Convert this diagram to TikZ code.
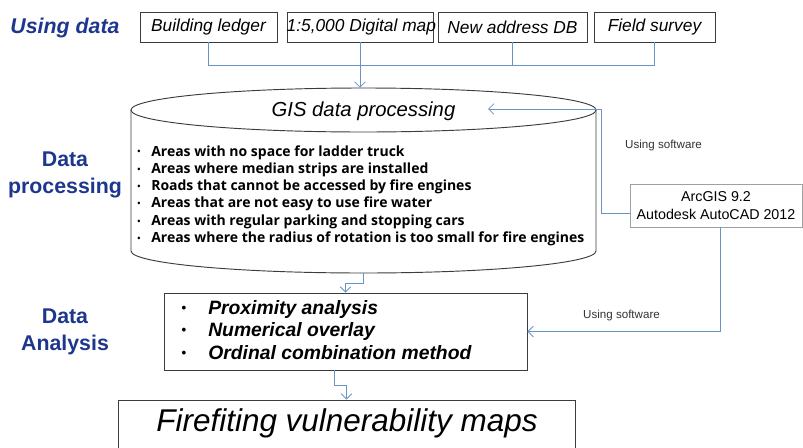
\documentclass[tikz,border=0pt]{standalone}
\usepackage{fontspec}
\setmainfont{Liberation Sans}
\newfontfamily\bulfont{Open Sans}
\usetikzlibrary{arrows.meta,calc}
\definecolor{lblue}{RGB}{30,55,140}
\definecolor{linkblue}{RGB}{105,148,200}
\definecolor{edgegray}{RGB}{60,60,60}
\definecolor{softgray}{RGB}{160,160,160}
\newcommand\cylbul{\makebox[10.5pt][l]{\raisebox{0.15ex}{\scalebox{0.6}{•}}}}
\begin{document}
\begin{tikzpicture}[x=0.75pt,y=-0.75pt,
  lbl/.style={font=\fontsize{16}{20}\selectfont\bfseries, text=lblue, align=center, inner sep=0pt},
  srcbox/.style={draw=edgegray, line width=0.7pt, minimum height=22.5pt, inner sep=0pt, font=\fontsize{13}{15}\selectfont\itshape},
  cylline/.style={draw=edgegray, line width=0.7pt},
  bultext/.style={anchor=base west, inner sep=0pt, font=\bulfont\fontsize{10.5}{12}\selectfont\bfseries},
  anatext/.style={anchor=base west, inner sep=0pt, font=\fontsize{14.5}{17}\selectfont\bfseries\itshape},
  anadot/.style={anchor=base, inner sep=0pt, font=\fontsize{10}{12}\selectfont\bfseries},
  plainbox/.style={draw=edgegray, line width=0.7pt, inner sep=0pt},
  swbox/.style={draw=softgray, line width=0.6pt, inner sep=0pt, align=center, font=\fontsize{10.7}{13}\selectfont},
  swlbl/.style={inner sep=0pt, font=\fontsize{8.7}{10}\selectfont, text=black!80},
  link/.style={draw=linkblue, line width=0.65pt},
  tip/.style={-{Straight Barb[length=4pt,width=8pt]}}
]
\useasboundingbox (0,0) rectangle (803,447);

% left labels
\node[lbl] (lusing) at (65,28) {\itshape Using data};
\node[lbl] (lproc) at (65,175) {Data\\processing};
\node[lbl] (lana) at (65,332) {Data\\Analysis};

% source boxes
\node[srcbox, minimum width=102.75pt] (b1) at (208.5,27) {Building ledger};
\node[srcbox, minimum width=109.5pt] (b2) at (360,27) {\makebox[0pt]{\hspace{2pt}1:5,000 Digital map}};
\node[srcbox, minimum width=111.75pt] (b3) at (512.5,27) {New address DB};
\node[srcbox, minimum width=90.75pt] (b4) at (654.5,27) {Field survey};
\coordinate (jn) at (360,65);

% cylinder
\node[minimum width=348.75pt, minimum height=138.75pt, inner sep=0pt] (cyl) at (363.5,180.5) {};
\draw[cylline] (363.5,110) ellipse [x radius=232.5, y radius=22];
\draw[cylline] (131,110) -- (131,251) arc[start angle=180, end angle=0, x radius=232.5, y radius=22] -- (596,110);
\node[inner sep=0pt, font=\fontsize{15.2}{18}\selectfont\itshape] (gis) at (363.5,111) {GIS data processing};

\foreach \t [count=\i] in {Areas with no space for ladder truck,
  Areas where median strips are installed,
  Roads that cannot be accessed by fire engines,
  Areas that are not easy to use fire water,
  Areas with regular parking and stopping cars,
  Areas where the radius of rotation is too small for fire engines}
  \node[bultext] (c\i) at (137,{156+17.3*(\i-1)}) {\cylbul\t};

% analysis box
\node[plainbox, minimum width=272.25pt, minimum height=57.75pt] (ana) at (345.5,331.5) {};
\foreach \t [count=\i] in {Proximity analysis, Numerical overlay, Ordinal combination method}{
  \node[anadot] (d\i) at (184,{312+22.5*(\i-1)}) {•};
  \node[anatext] (a\i) at (208,{314+22.5*(\i-1)}) {\t};
}

% final box
\node[plainbox, minimum width=342.75pt, minimum height=45pt] (fin) at (346.5,430) {};
\node[inner sep=0pt, font=\fontsize{23.6}{28}\selectfont\itshape] (fint) at (347,423) {Firefiting vulnerability maps};

% software box
\node[swbox, minimum width=129pt, minimum height=32.25pt] (sw) at (716,205.5) {ArcGIS 9.2\\Autodesk AutoCAD 2012};
\node[swlbl] (sl1) at (663.5,145) {Using software};
\node[swlbl] (sl2) at (621.5,315) {Using software};
\coordinate (t1) at (488,109);

% connectors
\draw[link] (b1.south) |- (b4.south |- jn) -- (b4.south);
\draw[link] (b3.south) -- (b3.south |- jn);
\draw[link,tip] (b2.south) -- (b2.south |- cyl.north);
\draw[link,tip] ([yshift=-5.6pt]sw.west) -- ++(-28,0) |- (t1);
\draw[link,tip] ([xshift=3pt]sw.south) |- (ana.east);
\draw[link,tip] (cyl.south) -- ++(0,10) -| (ana.north);
\draw[link,tip] ([xshift=-8pt]ana.south) -- ++(0,15) -| (fin.north);
\end{tikzpicture}
\end{document}
